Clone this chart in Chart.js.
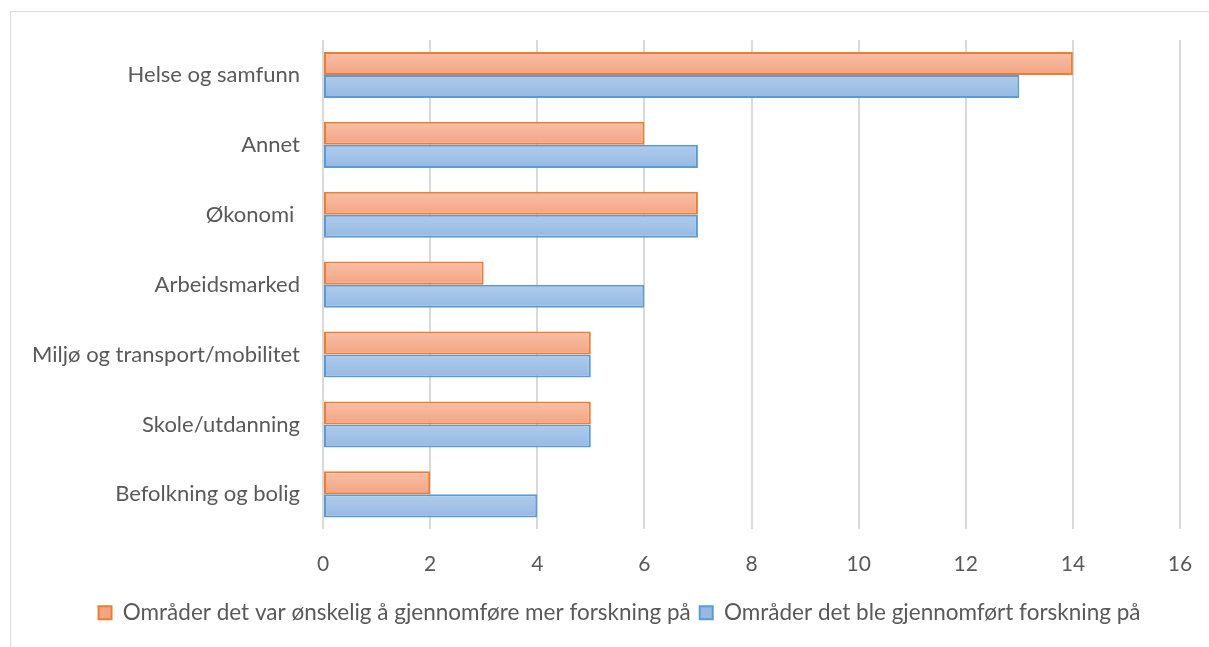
<!DOCTYPE html>
<html>
<head>
<meta charset="utf-8">
<script src="https://cdn.jsdelivr.net/npm/chart.js@4/dist/chart.umd.min.js"></script>
<style>
  html, body { margin: 0; padding: 0; background: #fff; }
  #wrap { position: relative; width: 1209px; height: 647px; overflow: hidden; }
  #frame { position: absolute; left: 10px; top: 11px; width: 1300px; height: 700px;
           border-left: 1px solid #d9d9d9; border-top: 1px solid #d9d9d9; }
  canvas { position: absolute; left: 0; top: 0; }
</style>
</head>
<body>
<div id="wrap">
  <div id="frame"></div>
  <canvas id="c" width="1209" height="647"></canvas>
</div>
<script>
const categories = [
  'Helse og samfunn',
  'Annet',
  'Økonomi ',
  'Arbeidsmarked',
  'Miljø og transport/mobilitet',
  'Skole/utdanning',
  'Befolkning og bolig'
];
const wishedSeries = [14, 6, 7, 3, 5, 5, 2];
const doneSeries = [13, 7, 7, 6, 5, 5, 4];
const seriesNames = [
  'Områder det var ønskelig å gjennomføre mer forskning på',
  'Områder det ble gjennomført forskning på'
];
const xTicks = [0, 2, 4, 6, 8, 10, 12, 14, 16];

const FONT = 'Lato, "Open Sans", sans-serif';
const TEXT = '#595959';
const CAT_FRACTION = 0.66;
const LEGEND_SHIFT = 21;

// light-to-darker vertical shading inside each bar
const barShades = [
  ['#f8c0a6', '#f3a482'],
  ['#aecbeb', '#96b9e3']
];
function shadedFill(dsIndex) {
  return (ctx) => {
    const chart = ctx.chart;
    const yScale = chart.scales.y;
    if (ctx.type !== 'data' || !chart.chartArea || !yScale) return barShades[dsIndex][0];
    const center = yScale.getPixelForValue(ctx.dataIndex);
    const half = (chart.chartArea.height / categories.length) * CAT_FRACTION / 2;
    const top = dsIndex === 0 ? center - half : center;
    const g = chart.ctx.createLinearGradient(0, top, 0, top + half);
    g.addColorStop(0, barShades[dsIndex][0]);
    g.addColorStop(1, barShades[dsIndex][1]);
    return g;
  };
}

// centre the legend under the plot rather than under the whole canvas
const legendOffset = {
  id: 'legendOffset',
  afterLayout(chart) {
    if (chart.legend) chart.legend.left += LEGEND_SHIFT * 2;
  }
};

new Chart(document.getElementById('c'), {
  type: 'bar',
  data: {
    labels: categories,
    datasets: [
      {
        label: seriesNames[0],
        data: wishedSeries,
        backgroundColor: shadedFill(0),
        borderColor: '#ed7d31',
        borderWidth: 2,
        borderSkipped: false
      },
      {
        label: seriesNames[1],
        data: doneSeries,
        backgroundColor: shadedFill(1),
        borderColor: '#5b9bd5',
        borderWidth: 2,
        borderSkipped: false
      }
    ]
  },
  options: {
    indexAxis: 'y',
    responsive: false,
    animation: false,
    layout: { padding: { left: 17, right: 29, top: 40, bottom: 13 } },
    datasets: { bar: { barPercentage: 1, categoryPercentage: CAT_FRACTION } },
    scales: {
      x: {
        min: 0, max: 16,
        afterBuildTicks: (s) => { s.ticks = xTicks.map(v => ({ value: v })); },
        afterFit: (s) => { s.height -= 6; s.paddingRight = 0; s.paddingLeft = 0; },
        grid: { color: '#d9d9d9', lineWidth: 2, drawTicks: false },
        border: { display: false },
        ticks: { color: TEXT, font: { family: FONT, size: 21 }, padding: 22 }
      },
      y: {
        grid: { display: false },
        border: { display: false },
        afterFit: (s) => { s.width = 306; },
        ticks: { color: TEXT, font: { family: FONT, size: 22 }, padding: 15 }
      }
    },
    plugins: {
      legend: {
        position: 'bottom',
        labels: {
          color: TEXT,
          font: { family: FONT, size: 22.5 },
          boxWidth: 13, boxHeight: 13,
          padding: 9
        }
      },
      tooltip: { enabled: false }
    }
  },
  plugins: [legendOffset]
});
</script>
</body>
</html>
